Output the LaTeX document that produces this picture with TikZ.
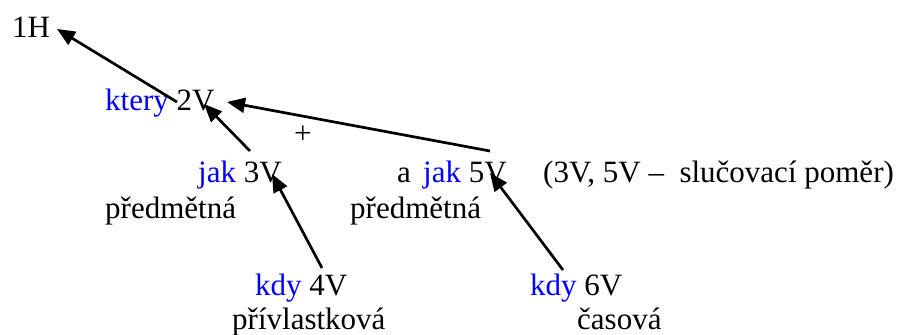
\documentclass[tikz,border=0pt]{standalone}
\usepackage{fontspec}
\setmainfont{Liberation Serif}
\usetikzlibrary{arrows.meta}
\definecolor{kwblue}{RGB}{0,0,255}
\tikzset{
  txt/.style={inner sep=0pt, anchor=base west, font=\fontsize{31}{37}\selectfont},
  kw/.style={text=kwblue},
  link/.style={line width=2.7pt, -{Triangle[length=18pt,width=15pt]}},
}
\begin{document}
\begin{tikzpicture}[x=1pt,y=-1pt]
\useasboundingbox (0,0) rectangle (914,335);
% words
\node[txt] (h1) at (12,37) {1H};
\node[txt] (v2) at (105,110) {\textcolor{kwblue}{ktery} 2V};
\node[txt] (plus) at (294,143) {+};
\node[txt] (v3) at (198,182) {\textcolor{kwblue}{jak} 3V};
\node[txt] (conj) at (397,182) {a};
\node[txt] (v5) at (423,182) {\textcolor{kwblue}{jak} 5V};
\node[txt] (note) at (543,182) {(3V, 5V –\ \ slučovací poměr)};
\node[txt] (t3) at (105,218) {předmětná};
\node[txt] (t5) at (350,218) {předmětná};
\node[txt] (v4) at (255,295) {\textcolor{kwblue}{kdy} 4V};
\node[txt] (t4) at (232,329) {přívlastková};
\node[txt] (v6) at (530,295) {\textcolor{kwblue}{kdy} 6V};
\node[txt] (t6) at (577,329) {časová};
% arrow ends
\coordinate (h1in) at (57,29);
\coordinate (v2out) at (177,102);
\coordinate (v2inA) at (204,104);
\coordinate (v2inB) at (227,102);
\coordinate (v3out) at (250,151);
\coordinate (v3in) at (272,174);
\coordinate (v5out) at (490,151);
\coordinate (v5in) at (490,173);
\coordinate (v4out) at (322,268);
\coordinate (v6out) at (563,270);
% connectors
\draw[link] (v2out) -- (h1in);
\draw[link] (v3out) -- (v2inA);
\draw[link] (v5out) -- (v2inB);
\draw[link] (v4out) -- (v3in);
\draw[link] (v6out) -- (v5in);
\end{tikzpicture}
\end{document}
